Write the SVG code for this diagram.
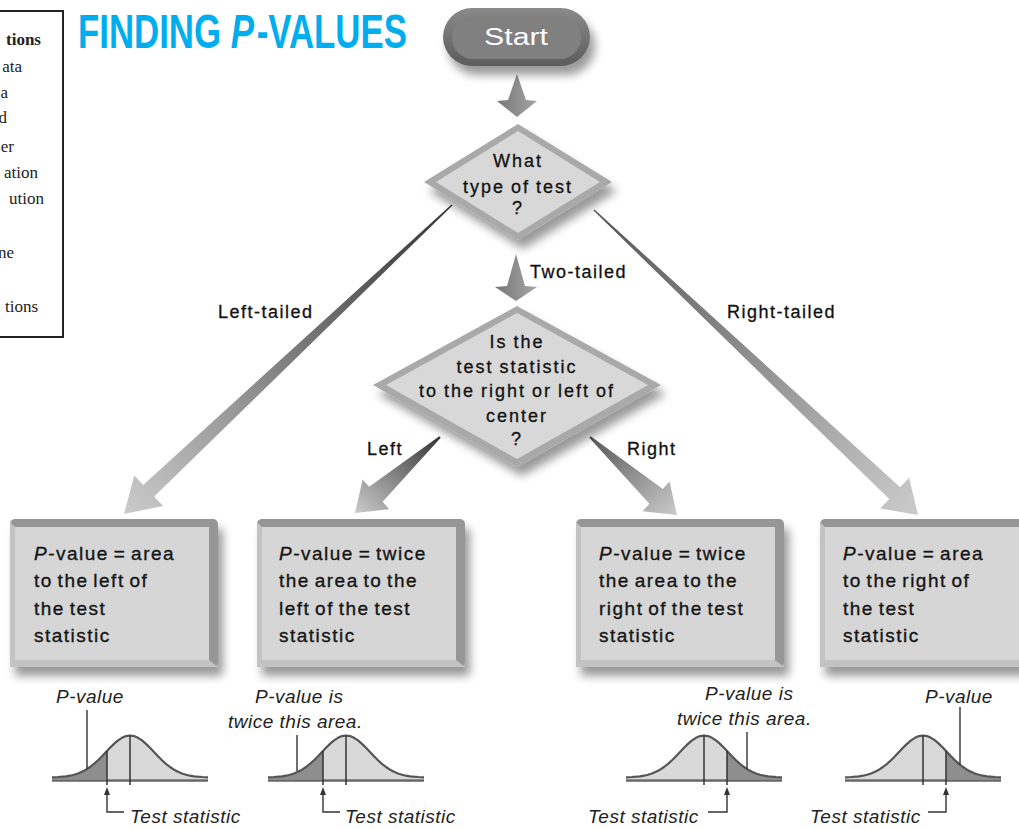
<svg xmlns="http://www.w3.org/2000/svg" width="1019" height="829" viewBox="0 0 1019 829">
<style>
.hand{font-family:"Liberation Sans",Arial,sans-serif;font-size:19px;fill:#151515;stroke:#151515;stroke-width:0.35;letter-spacing:1.5px;word-spacing:-2px}
.lbl{font-family:"Liberation Sans",Arial,sans-serif;font-size:18px;fill:#111;stroke:#111;stroke-width:0.3;letter-spacing:1.5px}
.dl{letter-spacing:2px;word-spacing:-1px}
.it{font-family:"Liberation Sans",Arial,sans-serif;font-style:italic;font-size:19px;fill:#222;letter-spacing:0.5px}
.side{font-family:"Liberation Serif","Times New Roman",serif;font-size:17px;fill:#222}
.ttl{font-family:"Liberation Sans",Arial,sans-serif;font-weight:bold;font-size:48px;fill:#00AEEF}
.ln{stroke:#333;stroke-width:1.4;fill:none}
</style>
<defs>
<filter id="sh" x="-20%" y="-20%" width="150%" height="170%">
<feGaussianBlur in="SourceAlpha" stdDeviation="5"/>
<feOffset dx="5" dy="9" result="o"/>
<feComponentTransfer><feFuncA type="linear" slope="0.4"/></feComponentTransfer>
<feMerge><feMergeNode/><feMergeNode in="SourceGraphic"/></feMerge>
</filter>
<linearGradient id="gStart" x1="0" y1="0" x2="0" y2="1"><stop offset="0" stop-color="#8a8a8a"/><stop offset="1" stop-color="#5c5c5c"/></linearGradient>
<linearGradient id="gV" x1="0" y1="0" x2="1" y2="0"><stop offset="0" stop-color="#777"/><stop offset="1" stop-color="#a5a5a5"/></linearGradient>
<linearGradient id="gL" x1="1" y1="0" x2="0" y2="1"><stop offset="0" stop-color="#333"/><stop offset="1" stop-color="#cbcbcb"/></linearGradient>
<linearGradient id="gR" x1="0" y1="0" x2="1" y2="1"><stop offset="0" stop-color="#555"/><stop offset="1" stop-color="#cbcbcb"/></linearGradient>
<g id="boxShape">
<rect x="0" y="0" width="208" height="148" rx="5" fill="#969696"/>
<polygon points="0,3 5,8 5,141 199,141 208,148 0,148" fill="#c3c3c3"/>
<rect x="5" y="8" width="194" height="133" fill="#d6d6d6"/>
</g>
<g id="curveL">
<path d="M-78,0 L-78,-1.7 L-72,-2 L-68,-2.3 L-64,-2.7 L-60,-3.3 L-56,-4.3 L-52,-5.5 L-48,-7.2 L-44,-9.3 L-40,-12 L-36,-15.1 L-32,-18.8 L-28,-22.8 L-24,-27 L-20,-31.2 L-16,-35.1 L-12,-38.6 L-8,-41.2 L-4,-42.9 L0,-43.5 L4,-42.9 L8,-41.2 L12,-38.6 L16,-35.1 L20,-31.2 L24,-27 L28,-22.8 L32,-18.8 L36,-15.1 L40,-12 L44,-9.3 L48,-7.2 L52,-5.5 L56,-4.3 L60,-3.3 L64,-2.7 L68,-2.3 L72,-2 L78,-1.7 L78,0 Z" fill="#d9d9d9"/>
<path d="M-78,0 L-78,-1.7 L-72,-2 L-68,-2.3 L-64,-2.7 L-60,-3.3 L-56,-4.3 L-52,-5.5 L-48,-7.2 L-44,-9.3 L-40,-12 L-36,-15.1 L-32,-18.8 L-28,-22.8 L-23,-28 L-23,0 Z" fill="#8e8e8e"/>
<path d="M-78,-1.7 L-72,-2 L-68,-2.3 L-64,-2.7 L-60,-3.3 L-56,-4.3 L-52,-5.5 L-48,-7.2 L-44,-9.3 L-40,-12 L-36,-15.1 L-32,-18.8 L-28,-22.8 L-24,-27 L-20,-31.2 L-16,-35.1 L-12,-38.6 L-8,-41.2 L-4,-42.9 L0,-43.5 L4,-42.9 L8,-41.2 L12,-38.6 L16,-35.1 L20,-31.2 L24,-27 L28,-22.8 L32,-18.8 L36,-15.1 L40,-12 L44,-9.3 L48,-7.2 L52,-5.5 L56,-4.3 L60,-3.3 L64,-2.7 L68,-2.3 L72,-2 L78,-1.7" fill="none" stroke="#555" stroke-width="2.2" stroke-linejoin="round"/>
<line x1="-78" y1="1.5" x2="78" y2="1.5" stroke="#666" stroke-width="2.5"/>
<line x1="0" y1="-43.5" x2="0" y2="6" stroke="#333" stroke-width="1.5"/>
<line x1="-23" y1="-28" x2="-23" y2="6" stroke="#333" stroke-width="1.5"/>
</g>
<polygon id="upHead" points="-3,8 0,0 3,8" fill="#333"/>
</defs>

<rect width="1019" height="829" fill="#fff"/>

<g id="sidebar">
<rect x="-2" y="11" width="65" height="326" fill="none" stroke="#222" stroke-width="2"/>
<text class="side" x="41" y="45" text-anchor="end" font-weight="bold">tions</text>
<text class="side" x="22" y="72" text-anchor="end">ata</text>
<text class="side" x="8" y="98" text-anchor="end">a</text>
<text class="side" x="7" y="123" text-anchor="end">d</text>
<text class="side" x="14" y="152" text-anchor="end">er</text>
<text class="side" x="38" y="178" text-anchor="end">ation</text>
<text class="side" x="44" y="204" text-anchor="end">ution</text>
<text class="side" x="14" y="258" text-anchor="end">ne</text>
<text class="side" x="38" y="312" text-anchor="end">tions</text>
</g>

<g id="title">
<text class="ttl" transform="translate(78,48) scale(0.725,1)" x="0" y="0">FINDING <tspan font-style="italic">P</tspan><tspan dx="4">-VALUES</tspan></text>
</g>

<g id="connectors">
<path d="M517,74 L526,100 L537,101 L517,117 L497,101 L508,100 Z" fill="url(#gV)"/>
<path d="M516,254 L525,286 L537,287 L516,301 L495,287 L507,286 Z" fill="url(#gV)"/>
<path d="M451.5,204.4 L452.5,205.6 L154.2,496.5 L163.1,506 L124,514 L134.3,475.4 L143.2,484.9 Z" fill="url(#gL)"/>
<path d="M594.5,209.4 L900.2,487.3 L909.1,477.8 L918,515 L880.3,508.4 L889.2,498.9 L593.5,210.6 Z" fill="url(#gR)"/>
<path d="M439.3,436.3 L440.7,437.7 L382.6,501.8 L389.2,509.2 L355,513 L362.6,479.4 L369.2,486.8 Z" fill="url(#gL)"/>
<path d="M590.7,436.3 L662.8,488.9 L669.5,481.4 L677,515 L642.7,511.2 L649.4,503.7 L589.3,437.7 Z" fill="url(#gR)"/>
<text class="lbl" x="218" y="318">Left-tailed</text>
<text class="lbl" x="530" y="278">Two-tailed</text>
<text class="lbl" x="727" y="318">Right-tailed</text>
<text class="lbl" x="367" y="455">Left</text>
<text class="lbl" x="627" y="455">Right</text>
</g>

<g id="start">
<g filter="url(#sh)">
<rect x="443" y="8" width="147" height="58" rx="29" fill="url(#gStart)"/>
<rect x="452" y="16" width="129" height="43" rx="21" fill="#808080"/>
</g>
<text x="516" y="45" text-anchor="middle" font-family="Liberation Sans,Arial,sans-serif" font-size="23" fill="#fff" textLength="64" lengthAdjust="spacingAndGlyphs">Start</text>
</g>

<g id="testType">
<g filter="url(#sh)">
<polygon points="518,124 612,182 518,240 424,182" fill="#a9a9a9"/>
<polygon points="518,131 600,182 518,233 436,182" fill="#d8d8d8"/>
</g>
<text class="lbl dl" x="518" y="167" text-anchor="middle">What</text>
<text class="lbl dl" x="518" y="193" text-anchor="middle">type of test</text>
<text class="lbl dl" x="518" y="214" text-anchor="middle">?</text>
</g>

<g id="side">
<g filter="url(#sh)">
<polygon points="517,306 661,385 517,467 373,385" fill="#a9a9a9"/>
<polygon points="517,313 648,385 517,459 386,385" fill="#d8d8d8"/>
</g>
<text class="lbl dl" x="517" y="348" text-anchor="middle">Is the</text>
<text class="lbl dl" x="517" y="373" text-anchor="middle">test statistic</text>
<text class="lbl dl" x="517" y="397" text-anchor="middle">to the right or left of</text>
<text class="lbl dl" x="517" y="422" text-anchor="middle">center</text>
<text class="lbl dl" x="517" y="445" text-anchor="middle">?</text>
</g>

<g id="leftTail">
<use href="#boxShape" x="10" y="519" filter="url(#sh)"/>
<text class="hand" x="34" y="560"><tspan font-style="italic">P</tspan>-value = area</text>
<text class="hand" x="34" y="587">to the left of</text>
<text class="hand" x="34" y="615">the test</text>
<text class="hand" x="34" y="642">statistic</text>
<use href="#curveL" transform="translate(130,779)"/>
<line class="ln" x1="87" y1="710" x2="87" y2="769"/>
<path class="ln" d="M107,792 V812 H124"/>
<use href="#upHead" transform="translate(107,787)"/>
<text class="it" x="56" y="703">P-value</text>
<text class="it" x="130" y="823">Test statistic</text>
</g>

<g id="twoLeft">
<use href="#boxShape" x="257" y="519" filter="url(#sh)"/>
<text class="hand" x="279" y="560"><tspan font-style="italic">P</tspan>-value = twice</text>
<text class="hand" x="279" y="587">the area to the</text>
<text class="hand" x="279" y="615">left of the test</text>
<text class="hand" x="279" y="642">statistic</text>
<use href="#curveL" transform="translate(346,779)"/>
<line class="ln" x1="297" y1="735" x2="297" y2="771"/>
<path class="ln" d="M323,792 V812 H340"/>
<use href="#upHead" transform="translate(323,787)"/>
<text class="it" x="255" y="703">P-value is</text>
<text class="it" x="228" y="728">twice this area.</text>
<text class="it" x="345" y="823">Test statistic</text>
</g>

<g id="twoRight">
<use href="#boxShape" x="576" y="519" filter="url(#sh)"/>
<text class="hand" x="599" y="560"><tspan font-style="italic">P</tspan>-value = twice</text>
<text class="hand" x="599" y="587">the area to the</text>
<text class="hand" x="599" y="615">right of the test</text>
<text class="hand" x="599" y="642">statistic</text>
<use href="#curveL" transform="translate(704,779) scale(-1,1)"/>
<line class="ln" x1="747" y1="732" x2="747" y2="769"/>
<path class="ln" d="M727,792 V812 H708"/>
<use href="#upHead" transform="translate(727,787)"/>
<text class="it" x="705" y="700">P-value is</text>
<text class="it" x="677" y="725">twice this area.</text>
<text class="it" x="588" y="823">Test statistic</text>
</g>

<g id="rightTail">
<use href="#boxShape" x="820" y="519" filter="url(#sh)"/>
<text class="hand" x="843" y="560"><tspan font-style="italic">P</tspan>-value = area</text>
<text class="hand" x="843" y="587">to the right of</text>
<text class="hand" x="843" y="615">the test</text>
<text class="hand" x="843" y="642">statistic</text>
<use href="#curveL" transform="translate(923,779) scale(-1,1)"/>
<line class="ln" x1="960" y1="707" x2="960" y2="765"/>
<path class="ln" d="M946,792 V812 H928"/>
<use href="#upHead" transform="translate(946,787)"/>
<text class="it" x="925" y="703">P-value</text>
<text class="it" x="810" y="823">Test statistic</text>
</g>
</svg>
